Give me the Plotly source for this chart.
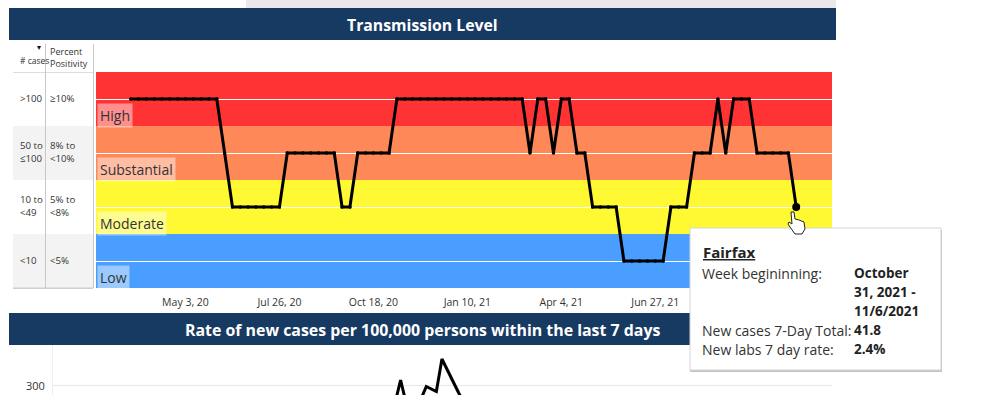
import pandas as pd
import plotly.graph_objects as go

W, H = 994, 395

# ---------- data ----------
first_week = "2020-03-15"
level_values = [3,3,3,3,3,3,3,3,3,3,3,3, 2, 1,1,1,1,1,1,1, 2,2,2,2,2,2,2, 1,1, 2,2,2,2,2,
                3,3,3,3,3,3,3,3,3,3,3,3,3,3,3,3,3, 2, 3,3, 2, 3,3, 2,2, 1,1,1,1,
                0,0,0,0,0,0, 1,1,1, 2,2,2, 3, 2, 3,3,3, 2,2,2,2,2, 1]
week_dates = pd.date_range(first_week, periods=len(level_values), freq="7D")

tick_dates = ["2020-05-03", "2020-07-26", "2020-10-18", "2021-01-10", "2021-04-04", "2021-06-27", "2021-09-19"]
tick_labels = ["May 3, 20", "Jul 26, 20", "Oct 18, 20", "Jan 10, 21", "Apr 4, 21", "Jun 27, 21", "Sep 19, 21"]

band_names = ["Low", "Moderate", "Substantial", "High"]
band_colors = ["#4a9eff", "#fff933", "#ff8858", "#ff3333"]
case_ranges = ["<10", "10 to<br><49", "50 to<br>≤100", ">100"]
positivity_ranges = ["<5%", "5% to<br><8%", "8% to<br><10%", "≥10%"]

rate_dates = ["2020-11-06", "2020-11-12", "2020-11-18", "2020-11-28", "2020-12-05", "2020-12-14", "2020-12-19",
              "2020-12-25", "2021-01-03", "2021-01-14"]
rate_values = [254, 310, 254, 260, 297, 287, 352, 326, 284, 240]

title_top = "Transmission Level"
title_bottom = "Rate of new cases per 100,000 persons within the last 7 days"
tooltip_name = "Fairfax"
tooltip_rows = [("Week begininning:", ["October", "31, 2021 -", "11/6/2021"]),
                ("New cases 7-Day Total:", ["41.8"]),
                ("New labs 7 day rate:", ["2.4%"])]

# ---------- helpers ----------
FONT = "Open Sans"
NAVY = "#173a63"
TEXT = "#333333"

def fx(x):
    return x / W

def fy(y):
    return 1 - y / H

def rect(x0, y0, x1, y1, fill, line=None, lw=0):
    return dict(type="rect", xref="paper", yref="paper", x0=fx(x0), x1=fx(x1), y0=fy(y1), y1=fy(y0),
                fillcolor=fill, line=dict(color=line or fill, width=lw), layer="above")

def note(x, y, text, size=10, color=TEXT, xanchor="left", yanchor="middle", pad=0, **kw):
    return dict(xref="paper", yref="paper", x=fx(x), y=fy(y), text=text, showarrow=False, xanchor=xanchor,
                yanchor=yanchor, align="left", font=dict(family=FONT, size=size, color=color),
                borderpad=pad, **kw)

fig = go.Figure()

# weekly level line
fig.add_trace(go.Scatter(x=week_dates, y=level_values, mode="lines+markers", hoverinfo="skip", showlegend=False,
                         line=dict(color="#000000", width=3), marker=dict(color="#000000", size=3.5), cliponaxis=False))
fig.add_trace(go.Scatter(x=week_dates[-1:], y=level_values[-1:], mode="markers", hoverinfo="skip", showlegend=False,
                         marker=dict(color="#000000", size=8), cliponaxis=False))
# rate line
fig.add_trace(go.Scatter(x=rate_dates, y=rate_values, mode="lines", xaxis="x2", yaxis="y2", hoverinfo="skip",
                         showlegend=False, line=dict(color="#000000", width=3)))

shapes = []
# coloured bands in data coordinates (drawn below the white gridlines)
for i, c in enumerate(band_colors):
    shapes.append(dict(type="rect", xref="x domain", yref="y", x0=0, x1=1, y0=i - 0.5, y1=i + 0.5,
                       fillcolor=c, line=dict(width=0), layer="below"))

# page furniture
shapes.append(rect(246, 0, 836, 8, "#e9e9e9"))
shapes.append(rect(9, 8, 836, 40, NAVY))
shapes.append(rect(9, 313, 836, 345, NAVY))
# key table
shapes.append(rect(13, 126, 93, 180, "#f3f3f3"))
shapes.append(rect(13, 234, 93, 288, "#f3f3f3"))
shapes.append(rect(13, 72, 93, 73, "#dddddd"))
shapes.append(rect(13, 287.5, 93, 289, "#cfcfcf"))
shapes.append(rect(45, 44, 46, 288, "#c8c8c8"))
shapes.append(rect(93, 44, 94, 288, "#c8c8c8"))
# tooltip with shadow
shapes.append(rect(690, 230, 942, 372, "#c4c4c4"))
shapes.append(rect(690, 228, 941, 370, "#ffffff", "#d4d4d4", 1))
# hand cursor
hand = [(791, 212), (794, 212), (795, 219), (799, 220), (804, 222), (805, 229), (802, 234), (795, 234),
        (790, 227), (788, 224), (789, 222), (792, 224)]
shapes.append(dict(type="path", xref="paper", yref="paper", layer="above", fillcolor="#ffffff",
                   line=dict(color="#222222", width=1),
                   path="M " + " L ".join(f"{fx(a):.5f},{fy(b):.5f}" for a, b in hand) + " Z"))

ann = [
    note(422, 25, f"<b>{title_top}</b>", size=15.8, color="#ffffff", xanchor="center"),
    note(422, 330, f"<b>{title_bottom}</b>", size=15.9, color="#ffffff", xanchor="center"),
    note(19, 60, "# cases", size=8.5),
    note(39, 47, "▾", size=8, color="#111111", xanchor="center"),
    note(49, 57.5, "Percent<br>Positivity", size=9),
]
row_centers = [261, 207, 153, 99]
for cy, cr, pr in zip(row_centers, case_ranges, positivity_ranges):
    ann.append(note(19, cy - 1, cr, size=9.7))
    ann.append(note(49, cy - 1, pr, size=9.7))

label_y = [277, 223, 169, 115]
for name, ly in zip(band_names, label_y):
    ann.append(note(97, ly, name, size=14, color="#333333", bgcolor="rgba(255,255,255,0.45)", pad=2))

ann.append(note(702, 252, f"<b><u>{tooltip_name}</u></b>", size=15, color="#222222"))
row_y = [273, 330, 349]
for (lab, vals), ry in zip(tooltip_rows, row_y):
    ann.append(note(701, ry, lab, size=14, color=TEXT))
    for k, val in enumerate(vals):
        ann.append(note(853, ry + 19 * k, f"<b>{val}</b>", size=13.5, color="#222222"))
ann.append(note(46, 385, "300", size=11, xanchor="right"))

fig.update_layout(
    width=W, height=H, autosize=False, margin=dict(l=0, r=0, t=0, b=0),
    paper_bgcolor="#ffffff", plot_bgcolor="#ffffff", showlegend=False, hovermode=False,
    font=dict(family=FONT, size=11, color=TEXT),
    shapes=shapes, annotations=ann,
    xaxis=dict(domain=[fx(96), fx(832)], range=["2020-02-13", "2021-12-02"], type="date", tickmode="array",
               tickvals=tick_dates, ticktext=tick_labels, showgrid=False, zeroline=False, ticks="", showline=False,
               tickfont=dict(family=FONT, size=10.5, color=TEXT), anchor="y", ticklabelstandoff=6),
    yaxis=dict(domain=[fy(288), fy(72)], range=[-0.5, 3.5], tickmode="array", tickvals=[0, 1, 2, 3],
               showticklabels=False, showgrid=True, gridcolor="#ffffff", gridwidth=1, zeroline=False, ticks=""),
    xaxis2=dict(domain=[fx(53), fx(832)], range=["2020-01-06", "2021-12-03"], type="date", showticklabels=False,
                showgrid=False, zeroline=False, ticks="", anchor="y2"),
    yaxis2=dict(domain=[0, fy(345)], range=[280, 380], tickmode="array", tickvals=[300], showticklabels=False,
                showgrid=True, gridcolor="#e8e8e8", gridwidth=1, zeroline=False, ticks="", anchor="x2",
                showline=True, linecolor="#eeeeee", linewidth=1),
)

fig.write_html("out.html", config=dict(displayModeBar=False),
               post_script="document.body.style.margin='0';document.body.style.overflow='hidden';")
